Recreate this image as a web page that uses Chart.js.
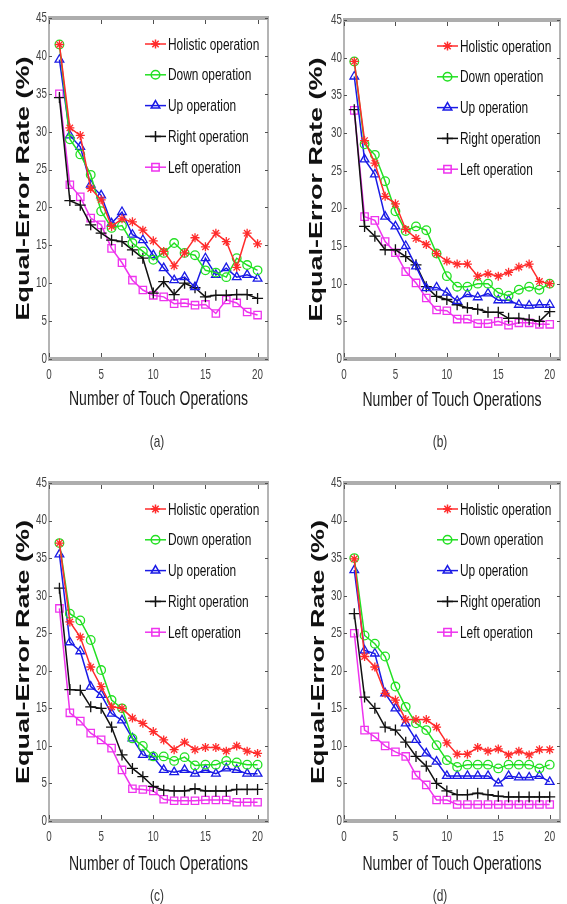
<!DOCTYPE html>
<html>
<head>
<meta charset="utf-8">
<script src="https://cdn.jsdelivr.net/npm/chart.js@4.4.1/dist/chart.umd.min.js"></script>
<style>
	body { margin: 0; background: #fff; }
	.page { position: relative; width: 567px; height: 904px; overflow: hidden; }
	.panel { position: absolute; }
</style>
</head>
<body>
<div class="page">
	<div class="panel" style="left:0;top:0;width:283px;height:452px"><canvas id="chart-a"></canvas></div>
	<div class="panel" style="left:283px;top:0;width:284px;height:452px"><canvas id="chart-b"></canvas></div>
	<div class="panel" style="left:0;top:452px;width:283px;height:452px"><canvas id="chart-c"></canvas></div>
	<div class="panel" style="left:283px;top:452px;width:284px;height:452px"><canvas id="chart-d"></canvas></div>
</div>
<script>
var touches = [1, 2, 3, 4, 5, 6, 7, 8, 9, 10, 11, 12, 13, 14, 15, 16, 17, 18, 19, 20];
var x_ticks = [0, 5, 10, 15, 20];
var y_ticks = [0, 5, 10, 15, 20, 25, 30, 35, 40, 45];
var series_names = ['Holistic operation', 'Down operation', 'Up operation', 'Right operation', 'Left operation'];
var x_title = 'Number of Touch Operations';
var y_title = 'Equal-Error Rate (%)';

// (a)
var holistic_a = [41.5, 30.5, 29.5, 22.5, 21.0, 17.5, 18.5, 18.1, 17.0, 15.6, 14.2, 12.3, 14.0, 16.0, 14.8, 16.6, 15.5, 12.1, 16.6, 15.2];
var down_a     = [41.5, 29.0, 27.0, 24.3, 19.5, 17.3, 17.6, 15.3, 14.2, 13.1, 14.0, 15.3, 14.0, 13.7, 11.7, 11.4, 10.8, 13.3, 12.4, 11.7];
var up_a       = [39.5, 29.5, 28.0, 23.0, 21.6, 17.9, 19.4, 16.4, 15.7, 13.7, 12.0, 10.4, 10.8, 9.5, 13.3, 11.1, 12.0, 10.8, 11.1, 10.6];
var right_a    = [34.5, 20.9, 20.3, 17.7, 16.6, 15.7, 15.5, 14.4, 13.3, 8.7, 10.2, 8.5, 10.0, 9.4, 8.2, 8.4, 8.4, 8.5, 8.5, 8.0];
var left_a     = [35.0, 23.0, 21.4, 18.6, 17.7, 14.6, 12.7, 10.4, 9.1, 8.4, 8.2, 7.3, 7.4, 7.1, 7.2, 6.0, 7.8, 7.4, 6.2, 5.8];

// (b)
var holistic_b = [39.5, 29.0, 26.0, 21.6, 20.6, 17.2, 16.0, 15.2, 14.0, 13.0, 12.6, 12.6, 11.0, 11.3, 11.0, 11.5, 12.2, 12.6, 10.3, 10.0];
var down_b     = [39.5, 28.5, 27.1, 23.6, 19.6, 17.0, 17.6, 17.1, 14.0, 11.0, 9.6, 9.6, 10.0, 10.0, 8.8, 8.4, 9.2, 9.6, 9.2, 10.0];
var up_b       = [37.5, 26.5, 24.5, 18.9, 17.6, 15.0, 12.3, 9.4, 9.5, 8.8, 7.7, 8.6, 8.2, 8.7, 7.8, 7.8, 7.2, 7.1, 7.2, 7.2];
var right_b    = [33.1, 17.6, 16.3, 14.5, 14.5, 13.6, 12.5, 9.6, 8.3, 7.9, 7.2, 6.8, 6.6, 6.2, 6.2, 5.4, 5.4, 5.2, 5.0, 6.3];
var left_b     = [33.0, 18.9, 18.4, 15.6, 14.1, 11.6, 10.1, 8.1, 6.5, 6.4, 5.3, 5.3, 4.7, 4.7, 5.0, 4.5, 4.8, 4.8, 4.6, 4.6];

// (c)
var holistic_c = [37.0, 26.5, 24.5, 20.5, 17.9, 15.2, 15.0, 13.7, 13.0, 11.9, 10.8, 9.5, 10.5, 9.5, 9.8, 9.8, 9.3, 10.0, 9.3, 9.0];
var down_c     = [37.0, 27.6, 26.7, 24.1, 20.1, 16.1, 15.0, 11.0, 10.0, 8.6, 8.6, 8.0, 8.5, 7.4, 7.5, 7.5, 8.0, 7.8, 7.5, 7.5];
var up_c       = [35.5, 23.8, 22.6, 17.9, 16.8, 14.3, 13.4, 11.0, 8.8, 8.5, 6.8, 6.5, 6.8, 6.3, 6.8, 6.3, 7.0, 6.8, 6.3, 6.3];
var right_c    = [31.0, 17.5, 17.4, 15.2, 15.0, 12.5, 8.8, 7.0, 5.9, 4.6, 4.1, 4.0, 4.0, 4.3, 4.0, 4.0, 4.0, 4.2, 4.2, 4.2];
var left_c     = [28.3, 14.4, 13.3, 11.7, 10.8, 9.7, 6.8, 4.3, 4.2, 4.0, 2.9, 2.7, 2.7, 2.7, 2.8, 2.8, 2.8, 2.5, 2.5, 2.5];

// (d)
var holistic_d = [34.9, 21.9, 20.5, 17.0, 16.1, 13.5, 13.5, 13.5, 12.5, 10.4, 8.9, 8.9, 9.8, 9.3, 9.6, 8.8, 9.3, 8.8, 9.5, 9.5];
var down_d     = [35.0, 24.7, 23.6, 21.9, 17.9, 15.2, 13.0, 12.1, 10.1, 8.1, 7.2, 7.5, 7.5, 7.5, 7.0, 7.5, 7.5, 7.5, 7.0, 7.5];
var up_d       = [33.4, 22.7, 22.3, 17.0, 15.0, 13.0, 10.8, 9.0, 7.9, 6.0, 6.0, 6.0, 6.0, 6.0, 5.0, 6.0, 5.8, 5.8, 6.0, 5.2];
var right_d    = [27.6, 16.5, 15.0, 12.5, 12.1, 10.5, 8.6, 7.3, 5.0, 4.0, 3.5, 3.5, 3.7, 3.5, 3.3, 3.2, 3.2, 3.2, 3.2, 3.2];
var left_d     = [25.0, 12.1, 11.2, 10.0, 9.2, 8.6, 6.1, 4.8, 2.8, 2.8, 2.2, 2.2, 2.2, 2.2, 2.2, 2.2, 2.2, 2.2, 2.2, 2.2];

var text_font = "'Liberation Sans', Arial, sans-serif";
// all lettering is drawn narrow: horizontal squeeze factor
var squeeze = 0.7;

// line colour and marker for each operation, same order as series_names
var series_styles = [
	{ color: '#ff2b2b', point: 'star',     radius: 4.5 },
	{ color: '#22e022', point: 'circle',   radius: 4.3 },
	{ color: '#1a1ae6', point: 'triangle', radius: 5 },
	{ color: '#111111', point: 'cross',    radius: 5.5 },
	{ color: '#ee33ee', point: 'rect',     radius: 5.2 }
];

function make_points(values) {
	var points = [];
	for (var i = 0; i < touches.length; i++) {
		points.push({ x: touches[i], y: values[i] });
	}
	return points;
}

function draw_marker(ctx, style, x, y) {
	Chart.helpers.drawPoint(ctx, {
		pointStyle: style.point,
		radius: style.radius,
		rotation: 0,
		borderWidth: 1.3
	}, x, y);
}

function narrow_text(ctx, text, x, y, align, rotate) {
	ctx.save();
	ctx.translate(x, y);
	ctx.scale(squeeze, 1);
	if (rotate) ctx.rotate(-Math.PI / 2);
	ctx.textAlign = align;
	ctx.fillText(text, 0, 0);
	ctx.restore();
}

// axes frame: heavy grey bars top and bottom, thin sides, short inward ticks
var box_ticks = {
	id: 'box_ticks',
	beforeDatasetsDraw: function(chart) {
		var ctx = chart.ctx;
		var area = chart.chartArea;
		var xs = chart.scales.x;
		var ys = chart.scales.y;

		ctx.save();
		ctx.strokeStyle = '#9c9c9c';
		ctx.lineWidth = 1.5;
		ctx.beginPath();
		ctx.moveTo(area.left, area.top);   ctx.lineTo(area.left, area.bottom);
		ctx.moveTo(area.right, area.top);  ctx.lineTo(area.right, area.bottom);
		ctx.stroke();

		ctx.strokeStyle = '#adadad';
		ctx.lineWidth = 4;
		ctx.beginPath();
		ctx.moveTo(area.left - 1, area.top);    ctx.lineTo(area.right + 1, area.top);
		ctx.moveTo(area.left - 1, area.bottom); ctx.lineTo(area.right + 1, area.bottom);
		ctx.stroke();

		ctx.strokeStyle = '#505050';
		ctx.lineWidth = 1;
		ctx.beginPath();
		xs.ticks.forEach(function(t) {
			var px = Math.round(xs.getPixelForValue(t.value)) + 0.5;
			ctx.moveTo(px, area.bottom - 2); ctx.lineTo(px, area.bottom - 6);
			ctx.moveTo(px, area.top + 2);    ctx.lineTo(px, area.top + 6);
		});
		ys.ticks.forEach(function(t) {
			var py = Math.round(ys.getPixelForValue(t.value)) + 0.5;
			ctx.moveTo(area.left, py);  ctx.lineTo(area.left + 3, py);
			ctx.moveTo(area.right, py); ctx.lineTo(area.right - 3, py);
		});
		ctx.stroke();
		ctx.restore();
	}
};

// tick labels, axis titles and the panel caption
var axis_text = {
	id: 'axis_text',
	afterDraw: function(chart) {
		var ctx = chart.ctx;
		var area = chart.chartArea;
		var xs = chart.scales.x;
		var ys = chart.scales.y;
		var opts = chart.options.plugins.axis_text;

		ctx.save();
		ctx.textBaseline = 'middle';
		ctx.fillStyle = '#444';
		ctx.font = '14px ' + text_font;
		xs.ticks.forEach(function(t) {
			narrow_text(ctx, String(t.value), xs.getPixelForValue(t.value), area.bottom + 16, 'center');
		});
		ys.ticks.forEach(function(t) {
			narrow_text(ctx, String(t.value), area.left - 2, ys.getPixelForValue(t.value), 'right');
		});

		ctx.fillStyle = '#1a1a1a';
		ctx.font = '20px ' + text_font;
		narrow_text(ctx, x_title, (area.left + area.right) / 2, area.bottom + opts.x_title_dy, 'center');

		ctx.fillStyle = '#111';
		ctx.font = 'bold 27px ' + text_font;
		narrow_text(ctx, y_title, opts.y_title_x, (area.top + area.bottom) / 2, 'center', true);

		ctx.fillStyle = '#333';
		ctx.font = '17px ' + text_font;
		narrow_text(ctx, opts.caption, opts.caption_x, opts.caption_y, 'center');
		ctx.restore();
	}
};

// legend in the upper right corner of the plot
var inner_legend = {
	id: 'inner_legend',
	afterDraw: function(chart) {
		var ctx = chart.ctx;
		var area = chart.chartArea;
		var opts = chart.options.plugins.inner_legend;

		ctx.save();
		ctx.font = '17px ' + text_font;
		ctx.textBaseline = 'middle';
		for (var i = 0; i < series_names.length; i++) {
			var style = series_styles[i];
			var y = area.top + opts.first + i * opts.step;
			var x0 = area.right - opts.from;
			var x1 = x0 + 21;

			ctx.strokeStyle = style.color;
			ctx.fillStyle = 'rgba(0,0,0,0)';
			ctx.lineWidth = 1.5;
			ctx.beginPath();
			ctx.moveTo(x0, y);
			ctx.lineTo(x1, y);
			ctx.stroke();
			draw_marker(ctx, style, (x0 + x1) / 2, y);

			ctx.fillStyle = '#111';
			narrow_text(ctx, series_names[i], x1 + 2, y + 1, 'left');
		}
		ctx.restore();
	}
};

function render_panel(canvas_id, panel) {
	var datasets = [];
	for (var i = 0; i < panel.series.length; i++) {
		var style = series_styles[i];
		datasets.push({
			label: series_names[i],
			data: make_points(panel.series[i]),
			borderColor: style.color,
			borderWidth: 1.5,
			pointStyle: style.point,
			pointRadius: style.radius,
			pointBorderColor: style.color,
			pointBackgroundColor: 'rgba(0,0,0,0)',
			pointBorderWidth: 1.3,
			tension: 0
		});
	}

	return new Chart(document.getElementById(canvas_id), {
		type: 'line',
		data: { datasets: datasets },
		options: {
			responsive: true,
			maintainAspectRatio: false,
			animation: false,
			events: [],
			layout: {
				padding: { top: panel.pad_top, right: panel.pad_right, left: 0, bottom: panel.pad_bottom }
			},
			plugins: {
				legend: { display: false },
				tooltip: { enabled: false },
				inner_legend: { first: 26, step: 30.8, from: 123 },
				axis_text: {
					x_title_dy: panel.x_title_dy,
					y_title_x: panel.y_title_x,
					caption: panel.caption,
					caption_x: panel.caption_x,
					caption_y: panel.caption_y
				}
			},
			scales: {
				x: {
					type: 'linear',
					min: 0,
					max: 21,
					afterBuildTicks: function(scale) {
						scale.ticks = x_ticks.map(function(v) { return { value: v }; });
					},
					afterFit: function(scale) { scale.height = 55; },
					grid: { display: false, drawTicks: false },
					border: { display: false },
					ticks: { display: false }
				},
				y: {
					min: 0,
					max: 45,
					afterBuildTicks: function(scale) {
						scale.ticks = y_ticks.map(function(v) { return { value: v }; });
					},
					afterFit: function(scale) { scale.width = panel.y_width; },
					grid: { display: false, drawTicks: false },
					border: { display: false },
					ticks: { display: false }
				}
			}
		},
		plugins: [box_ticks, inner_legend, axis_text]
	});
}

render_panel('chart-a', {
	series: [holistic_a, down_a, up_a, right_a, left_a],
	pad_top: 18, pad_right: 15, pad_bottom: 38, y_width: 49,
	x_title_dy: 40, y_title_x: 24,
	caption: '(a)', caption_x: 157, caption_y: 442
});
render_panel('chart-b', {
	series: [holistic_b, down_b, up_b, right_b, left_b],
	pad_top: 20, pad_right: 7, pad_bottom: 38, y_width: 61,
	x_title_dy: 41, y_title_x: 34,
	caption: '(b)', caption_x: 157, caption_y: 442
});
render_panel('chart-c', {
	series: [holistic_c, down_c, up_c, right_c, left_c],
	pad_top: 31, pad_right: 15, pad_bottom: 28, y_width: 49,
	x_title_dy: 43, y_title_x: 24,
	caption: '(c)', caption_x: 157, caption_y: 444
});
render_panel('chart-d', {
	series: [holistic_d, down_d, up_d, right_d, left_d],
	pad_top: 31, pad_right: 7, pad_bottom: 28, y_width: 61,
	x_title_dy: 43, y_title_x: 36,
	caption: '(d)', caption_x: 157, caption_y: 444
});
</script>
</body>
</html>
